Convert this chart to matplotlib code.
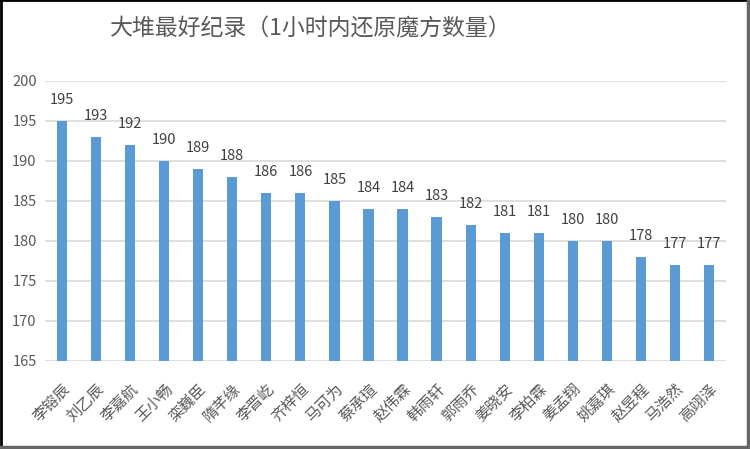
import numpy as np
import matplotlib
matplotlib.use("agg")
import matplotlib.pyplot as plt
from matplotlib.lines import Line2D

plt.rcParams['font.family'] = ['Noto Sans CJK SC', 'DejaVu Sans']

names = ["李镕辰", "刘乙辰", "李嘉航", "王小畅", "栾巍臣", "隋芊缘", "李晋屹",
         "齐梓恒", "马可为", "蔡承瑄", "赵伟霖", "韩雨轩", "郭雨乔", "姜晓安",
         "李柏霖", "姜孟翔", "姚嘉琪", "赵昱程", "马浩然", "高翊泽"]
scores = [195, 193, 192, 190, 189, 188, 186, 186, 185, 184, 184, 183, 182,
          181, 181, 180, 180, 178, 177, 177]
yticks = [165, 170, 175, 180, 185, 190, 195, 200]
title = "大堆最好纪录（1小时内还原魔方数量）"

fig = plt.figure(figsize=(7.5, 4.49), dpi=100)
ax = fig.add_axes([0.06, 0.196, 0.908, 0.624])

x = np.arange(len(names))
bars = ax.bar(x, scores, width=0.3, color="#5B9BD5", zorder=3)
ax.bar_label(bars, labels=[str(s) for s in scores], padding=10,
             fontsize=10.5, color="#404040")

ax.set_ylim(165, 200)
ax.set_xlim(-0.5, len(names) - 0.5)
ax.set_yticks(yticks)
ax.set_yticklabels([str(t) for t in yticks], fontsize=10.5, color="#595959")
ax.set_xticks(x)
ax.set_xticklabels(names, rotation=45, ha="right", rotation_mode="anchor",
                   fontsize=11, color="#595959")
ax.tick_params(axis="y", length=0, pad=6)
ax.tick_params(axis="x", length=0, pad=14)
ax.grid(axis="y", color="#D9D9D9", linewidth=1.2, zorder=0)
for s in ax.spines.values():
    s.set_visible(False)

fig.text(0.415, 0.935, title, ha="center", va="center", fontsize=16.5,
         color="#595959", fontweight="medium")

# outer frame
fig.add_artist(Line2D([0.001, 0.001], [0, 1], transform=fig.transFigure, color="black", lw=2))
fig.add_artist(Line2D([0, 1], [0.999, 0.999], transform=fig.transFigure, color="black", lw=2))
fig.add_artist(Line2D([0.997, 0.997], [0, 1], transform=fig.transFigure, color="#666666", lw=2.5))
fig.add_artist(Line2D([0, 1], [0.004, 0.004], transform=fig.transFigure, color="#666666", lw=2.5))

fig.savefig("out.png", dpi=100)
